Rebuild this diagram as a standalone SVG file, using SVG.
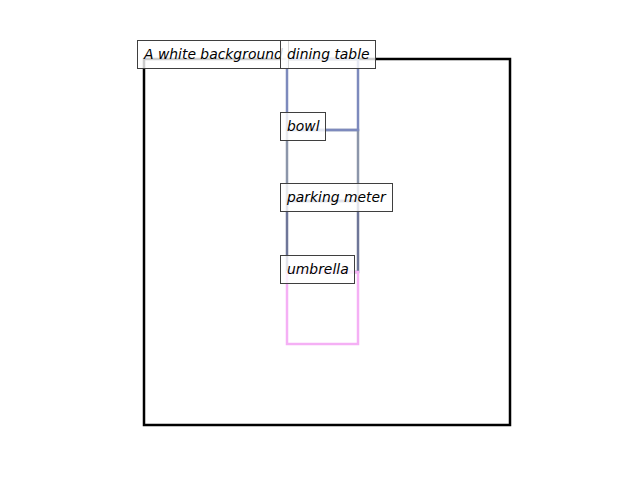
<svg xmlns="http://www.w3.org/2000/svg" width="640" height="480" viewBox="0 0 640 480">
<style>
.box{fill:none;stroke-width:2.5}
.lbl rect{fill:#ffffff;fill-opacity:0.8;stroke:#3f3f3f;stroke-width:1}
.lbl text{font-family:"DejaVu Sans",sans-serif;font-style:italic;font-size:13.9px;fill:#000}
</style>
<rect width="640" height="480" fill="#ffffff"/>
<g id="connectors">
<rect id="frame" class="box" x="144" y="59" width="366" height="366" stroke="#000000" stroke-width="2"/>
<rect class="box" x="287" y="130" width="71" height="71" stroke="#8c96aa"/>
<rect class="box" x="287" y="59" width="71" height="71" stroke="#7d8abd"/>
<rect class="box" x="287" y="201" width="71" height="71" stroke="#6e7698"/>
<rect class="box" x="287" y="272" width="71" height="72" stroke="#f5b0f5"/>
</g>
<g id="background" class="lbl"><rect x="137.5" y="40.5" width="151" height="28"/><text x="144" y="58.5">A white background</text></g>
<g id="dining_table" class="lbl"><rect x="280.5" y="40.5" width="95" height="28"/><text x="287" y="58.5">dining table</text></g>
<g id="bowl" class="lbl"><rect x="280.5" y="112.5" width="45" height="28"/><text x="287" y="130.5">bowl</text></g>
<g id="parking_meter" class="lbl"><rect x="280.5" y="183.5" width="112" height="28"/><text x="287" y="201.5">parking meter</text></g>
<g id="umbrella" class="lbl"><rect x="280.5" y="255.5" width="74" height="28"/><text x="287" y="273.5">umbrella</text></g>
</svg>
